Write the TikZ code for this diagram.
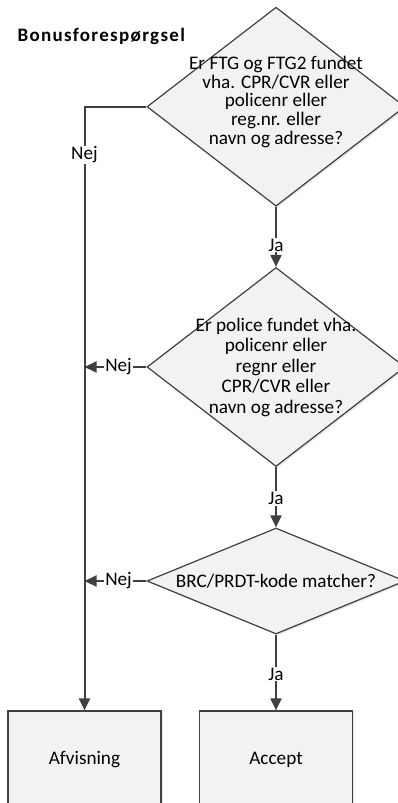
\documentclass[tikz,border=0pt]{standalone}
\usepackage{fontspec}
\setmainfont{Carlito}
\newfontfamily\titlefont[LetterSpace=7]{Carlito}
\usetikzlibrary{shapes.geometric,arrows.meta,shadows}

\definecolor{shapefill}{HTML}{F2F2F2}
\definecolor{linegray}{HTML}{404040}
\newcommand{\qfont}{\fontsize{19.2}{20.5}\selectfont}

\tikzset{
  softshadow/.style={drop shadow={shadow xshift=1.5pt, shadow yshift=-1.5pt, opacity=0.2, fill=black!50}},
  decision/.style={diamond, draw=linegray, line width=1.2pt, fill=shapefill,
    inner sep=0pt, minimum width=258pt, softshadow},
  outcome/.style={rectangle, draw=linegray, line width=1.2pt, fill=shapefill,
    minimum width=153pt, minimum height=98pt, font=\qfont, softshadow},
  qtext/.style={align=center, font=\qfont},
  flow/.style={draw=linegray, line width=2pt, -{Triangle[length=12pt,width=11pt]}},
  answer/.style={fill=white, inner sep=1pt, font=\qfont},
}

\begin{document}
\begin{tikzpicture}[x=1pt, y=-1pt]
  \useasboundingbox (0, 0) rectangle (398, 803);

  \node[anchor=base west, font=\titlefont\bfseries\fontsize{19}{21}\selectfont] (title) at (14, 41.7) {Bonusforespørgsel};

  % questions
  \node[decision, minimum height=199pt,
    label={[qtext, font=\fontsize{19.2}{18.7}\selectfont, yshift=5pt]center:{Er FTG og FTG2 fundet\\vha. CPR/CVR eller\\policenr eller\\reg.nr. eller\\navn og adresse?}}]
    (q1) at (276, 106.7) {};
  \node[decision, minimum height=199pt,
    label={[qtext]center:{Er police fundet vha.\\policenr eller\\regnr eller\\CPR/CVR eller\\navn og adresse?}}]
    (q2) at (276, 367) {};
  \node[decision, minimum height=106pt,
    label={[qtext]center:{BRC/PRDT-kode matcher?}}]
    (q3) at (276, 581) {};

  % outcomes
  \node[outcome] (afvis)  at (84.5, 760) {Afvisning};
  \node[outcome] (accept) at (276, 760) {Accept};

  % Ja
  \draw[flow] (q1.south) -- (q2.north) node[answer, pos=0.64] {Ja};
  \draw[flow] (q2.south) -- (q3.north) node[answer, pos=0.52] {Ja};
  \draw[flow] (q3.south) -- (accept.north) node[answer, pos=0.52] {Ja};

  % Nej
  \draw[flow] (q1.west) -| (afvis.north) node[answer, pos=0.54] {Nej};
  \draw[flow] (q2.west) -- (q2.west -| afvis.north) node[answer, pos=0.45] {Nej};
  \draw[flow] (q3.west) -- (q3.west -| afvis.north) node[answer, pos=0.45] {Nej};

\end{tikzpicture}
\end{document}
